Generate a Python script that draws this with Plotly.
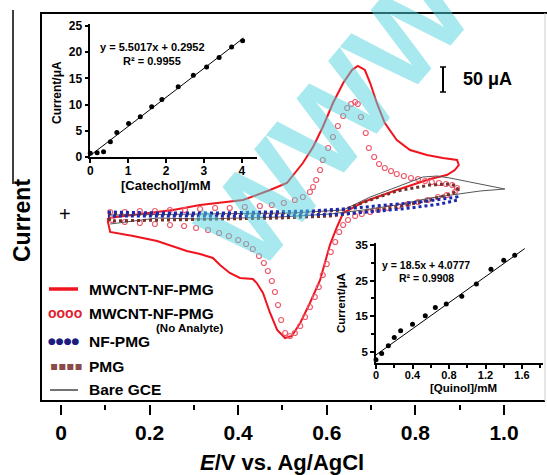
import plotly.graph_objects as go

W, H = 547, 475
FONT = "Liberation Sans, Arial, sans-serif"

# ---------------- main CV data (E / V vs Ag/AgCl, I / µA) ----------------
mw_E = [0.106, 0.178, 0.253, 0.314, 0.411, 0.472, 0.510, 0.546, 0.569, 0.591, 0.614, 0.637, 0.657, 0.670,
        0.686, 0.698, 0.713, 0.731, 0.758, 0.788, 0.826, 0.862, 0.894, 0.898, 0.889, 0.871, 0.833, 0.758,
        0.682, 0.637, 0.623, 0.607, 0.585, 0.562, 0.540, 0.521, 0.506, 0.488, 0.472, 0.456, 0.442, 0.433,
        0.404, 0.381, 0.359, 0.343, 0.314, 0.284, 0.246, 0.217, 0.163, 0.111, 0.106, 0.106]
mw_I = [-1.5, 0.5, 2.5, 5.0, 7.5, 12.5, 16.0, 26.0, 34.0, 44.0, 56.0, 66.0, 72.5, 74.5,
        72.5, 66.0, 56.0, 46.0, 37.5, 32.5, 30.0, 28.5, 27.5, 25.0, 22.5, 20.0, 18.0, 12.5,
        6.5, 1.0, -6.0, -15.0, -32.5, -44.0, -54.0, -60.5, -61.5, -57.5, -49.0, -39.0, -34.0, -32.0,
        -31.5, -29.0, -25.0, -21.5, -19.5, -18.0, -15.0, -13.0, -10.5, -8.5, -3.5, -1.5]

na_E = [0.111, 0.144, 0.178, 0.212, 0.246, 0.280, 0.314, 0.348, 0.381, 0.415, 0.449, 0.476, 0.503, 0.528,
        0.546, 0.562, 0.569, 0.576, 0.585, 0.591, 0.603, 0.614, 0.625, 0.637, 0.646, 0.655, 0.664, 0.670,
        0.677, 0.688, 0.695, 0.707, 0.718, 0.731, 0.745, 0.758, 0.774, 0.790, 0.806, 0.822, 0.837, 0.853,
        0.869, 0.883, 0.894,
        0.889, 0.871, 0.851, 0.828, 0.806, 0.783, 0.761, 0.738, 0.716, 0.698, 0.679, 0.664, 0.648, 0.637,
        0.628, 0.619, 0.609, 0.600, 0.591, 0.582, 0.573, 0.562, 0.551, 0.540, 0.528, 0.517, 0.506, 0.497,
        0.490, 0.483, 0.476, 0.467, 0.458, 0.447, 0.433, 0.418, 0.400, 0.379, 0.357, 0.332, 0.305, 0.278,
        0.246, 0.212, 0.178, 0.144, 0.115]
na_I = [1.5, 1.5, 2.0, 2.0, 2.5, 2.5, 3.0, 3.5, 3.5, 4.0, 4.5, 5.0, 6.0, 7.5,
        9.0, 11.5, 14.0, 17.5, 22.5, 27.5, 33.5, 39.0, 44.5, 49.5, 53.5, 55.5, 56.5, 55.5,
        49.0, 41.0, 33.5, 29.0, 25.5, 23.5, 22.0, 20.5, 19.5, 18.5, 18.0, 17.0, 16.5, 16.0,
        15.5, 15.0, 13.5,
        11.5, 10.0, 9.0, 7.5, 6.5, 5.5, 4.5, 3.5, 2.5, 1.5, 0.5, -0.5, -2.5, -5.0,
        -8.5, -13.5, -18.5, -24.5, -30.0, -36.0, -41.0, -46.0, -51.0, -55.5, -59.0, -60.5, -59.0, -52.5,
        -45.0, -38.5, -33.0, -28.0, -24.0, -20.5, -17.0, -14.5, -12.5, -10.5, -9.0, -7.5, -6.5, -5.5,
        -5.0, -4.5, -4.0, -3.5, -2.5]

nf_E = [0.106, 0.223, 0.359, 0.472, 0.562, 0.637, 0.720, 0.810, 0.894,
        0.896, 0.856, 0.788, 0.720, 0.637, 0.540, 0.427, 0.291, 0.178, 0.106]
nf_I = [1.5, 1.0, 1.0, 1.5, 2.0, 3.0, 4.5, 6.5, 9.0,
        7.5, 5.5, 3.5, 2.0, 0.5, 0.0, -0.5, -0.5, -0.5, -0.5]

pmg_E = [0.106, 0.314, 0.517, 0.637, 0.698, 0.758, 0.833, 0.878, 0.892, 0.896,
         0.885, 0.833, 0.758, 0.682, 0.607, 0.494, 0.359, 0.223, 0.111, 0.106]
pmg_I = [0.5, 0.5, 1.0, 2.5, 7.5, 12.0, 15.0, 15.5, 14.5, 12.5,
         11.0, 7.5, 4.0, 1.5, -0.5, -1.5, -2.0, -2.5, -3.0, -0.5]

gce_E = [0.111, 0.314, 0.517, 0.637, 0.698, 0.758, 0.817, 0.849, 0.878, 0.923, 1.002,
         0.946, 0.894, 0.833, 0.758, 0.682, 0.607, 0.494, 0.314, 0.217, 0.111]
gce_I = [0.0, 0.5, 1.0, 2.5, 9.0, 14.0, 19.0, 19.5, 18.5, 16.5, 13.0,
         12.0, 10.5, 8.5, 5.0, 2.5, 0.5, -1.0, -2.0, -1.5, -4.5]

# ---------------- inset: catechol calibration ----------------
cat_conc = [0.0, 0.18, 0.35, 0.53, 0.70, 1.01, 1.32, 1.62, 1.89, 2.32, 2.72, 3.07, 3.40, 3.73, 4.02]
cat_cur = [0.7, 0.8, 1.0, 2.9, 4.7, 6.4, 7.7, 9.6, 11.0, 13.4, 15.6, 17.2, 19.0, 21.0, 22.2]
cat_fit_x = [0.0, 4.04]
cat_fit_y = [0.3, 22.7]
cat_ticks = [0, 1, 2, 3, 4]
cat_yticks = [0, 5, 10, 15, 20, 25]

# ---------------- inset: quinol calibration ----------------
qui_conc = [0.0, 0.062, 0.135, 0.20, 0.27, 0.40, 0.54, 0.65, 0.77, 0.94, 1.10, 1.26, 1.40, 1.52]
qui_cur = [2.7, 4.5, 6.7, 9.0, 10.9, 12.7, 15.1, 17.4, 18.4, 20.6, 24.0, 28.2, 30.7, 32.1]
qui_fit_x = [0.0, 1.63]
qui_fit_y = [4.1, 34.0]
qui_ticks = [0, 0.4, 0.8, 1.2, 1.6]
qui_ticktext = ["0", "0.4", "0.8", "1.2", "1.6"]
qui_yticks = [5, 15, 25, 35]

main_ticks = [0, 0.2, 0.4, 0.6, 0.8, 1.0]
main_ticktext = ["0", "0.2", "0.4", "0.6", "0.8", "1.0"]


def px(x):
    return x / W


def py(y):
    return 1 - y / H


fig = go.Figure()

# main traces
fig.add_trace(go.Scatter(x=mw_E, y=mw_I, mode="lines", line=dict(color="#f0141e", width=2),
                         xaxis="x", yaxis="y", showlegend=False))
fig.add_trace(go.Scatter(x=na_E, y=na_I, mode="markers",
                         marker=dict(symbol="circle-open", size=5, color="#ee5a6c", line=dict(width=1.2)),
                         xaxis="x", yaxis="y", showlegend=False))
fig.add_trace(go.Scatter(x=gce_E, y=gce_I, mode="lines", line=dict(color="#555555", width=1),
                         xaxis="x", yaxis="y", showlegend=False))
fig.add_trace(go.Scatter(x=pmg_E, y=pmg_I, mode="lines", line=dict(color="#74302c", width=3, dash="dot"),
                         xaxis="x", yaxis="y", showlegend=False))
fig.add_trace(go.Scatter(x=nf_E, y=nf_I, mode="lines", line=dict(color="#1a28b0", width=3, dash="dot"),
                         xaxis="x", yaxis="y", showlegend=False))

# catechol inset
fig.add_trace(go.Scatter(x=cat_fit_x, y=cat_fit_y, mode="lines", line=dict(color="black", width=1),
                         xaxis="x2", yaxis="y2", showlegend=False))
fig.add_trace(go.Scatter(x=cat_conc, y=cat_cur, mode="markers", marker=dict(color="black", size=5),
                         xaxis="x2", yaxis="y2", showlegend=False, cliponaxis=False))
# quinol inset
fig.add_trace(go.Scatter(x=qui_fit_x, y=qui_fit_y, mode="lines", line=dict(color="black", width=1),
                         xaxis="x3", yaxis="y3", showlegend=False))
fig.add_trace(go.Scatter(x=qui_conc, y=qui_cur, mode="markers", marker=dict(color="black", size=5),
                         xaxis="x3", yaxis="y3", showlegend=False, cliponaxis=False))


def inset_axis(size):
    return dict(showline=True, linecolor="black", linewidth=1.5, ticks="outside", ticklen=4,
                tickwidth=1.5, tickcolor="black", showgrid=False, zeroline=False,
                tickfont=dict(family=FONT, size=size, color="black", weight="bold"), automargin=False)


fig.update_layout(
    width=W, height=H, margin=dict(l=0, r=0, t=0, b=0, autoexpand=False),
    paper_bgcolor="white", plot_bgcolor="rgba(0,0,0,0)",
    xaxis=dict(domain=[px(41), px(545)], range=[-0.0451, 1.0926], anchor="y", automargin=False,
               showline=False, showgrid=False, zeroline=False,
               tickvals=main_ticks, ticktext=main_ticktext, ticks="outside", ticklen=10, tickwidth=2,
               tickcolor="black", ticklabelstandoff=0,
               tickfont=dict(family=FONT, size=21, color="black", weight="bold"),
               minor=dict(dtick=0.1, tick0=0, ticks="outside", ticklen=5, tickwidth=2, tickcolor="black")),
    yaxis=dict(domain=[py(404), py(13)], range=[-94.5, 101], anchor="x", visible=False, automargin=False),
    xaxis2=dict(domain=[px(90.3), px(257)], range=[0, 4.40], anchor="y2", tickvals=cat_ticks,
                ticklabelstandoff=-2, **inset_axis(12)),
    yaxis2=dict(domain=[py(157), py(24)], range=[0, 25.4], anchor="x2", tickvals=cat_yticks,
                **inset_axis(12)),
    xaxis3=dict(domain=[px(376), px(543)], range=[0, 1.83], anchor="y3", tickvals=qui_ticks,
                ticktext=qui_ticktext, ticklabelstandoff=-3,
                minor=dict(dtick=0.2, tick0=0, ticks="outside", ticklen=3, tickwidth=1.5, tickcolor="black"),
                **inset_axis(11)),
    yaxis3=dict(domain=[py(363), py(243)], range=[1.82, 35.56], anchor="x3", tickvals=qui_yticks,
                minor=dict(dtick=5, tick0=0, ticks="outside", ticklen=3, tickwidth=1.5, tickcolor="black"),
                **inset_axis(11.5)),
)

shapes = []


def seg(x0, y0, x1, y1, color="black", width=2):
    shapes.append(dict(type="line", xref="paper", yref="paper", x0=px(x0), y0=py(y0), x1=px(x1), y1=py(y1),
                       line=dict(color=color, width=width)))


# frame
seg(41, 13, 41, 401)
seg(40, 13, 547, 13)
seg(40, 401, 545, 401)
seg(545, 13, 545, 401, color="#cccccc", width=1)
# line beside the y label
seg(13, 10, 13, 184, width=1.5)
# scale bar
seg(443, 67, 443, 92, width=2)
seg(440, 67, 446, 67, width=1.5)
seg(440, 92, 446, 92, width=1.5)
# legend line samples
seg(49, 289, 78, 289, color="#f0141e", width=3.5)
seg(50, 390, 78, 390, color="#444444", width=1.5)
fig.update_layout(shapes=shapes)

ann = []


def text(x, y, s, size, color="black", bold=True, angle=0, xanchor="center", family=FONT):
    ann.append(dict(x=px(x), y=py(y), xref="paper", yref="paper", text=s, showarrow=False,
                    xanchor=xanchor, yanchor="middle", textangle=angle,
                    font=dict(family=family, size=size, color=color, weight="bold" if bold else "normal")))


# watermark
ann.append(dict(x=px(335), y=py(118), xref="paper", yref="paper", text="WWW", showarrow=False,
                xanchor="center", yanchor="middle",
                textangle=-50, font=dict(family=FONT, size=122, color="rgba(80,212,222,0.5)", weight="bold")))

text(22, 221, "Current", 23, angle=-90)
text(65, 214, "+", 20, bold=False)
text(282, 462, "<i>E</i>/V vs. Ag/AgCl", 22)
text(487, 79, "50 μA", 18)

# legend
text(87, 289, "MWCNT-NF-PMG", 15.5, xanchor="left")
text(87, 313, "MWCNT-NF-PMG", 15.5, xanchor="left")
text(154, 328, "(No Analyte)", 11.5, xanchor="left")
text(87, 341, "NF-PMG", 15.5, xanchor="left")
text(87, 366, "PMG", 15.5, xanchor="left")
text(87, 389, "Bare GCE", 15.5, xanchor="left")
text(46, 313, "oooo", 14, color="#e02030", xanchor="left")
text(46, 341, "●●●●", 9, color="#1c1c80", xanchor="left", family="DejaVu Sans")
text(48, 366, "▪▪▪▪", 12, color="#8a4a48", xanchor="left", family="DejaVu Sans")

# catechol inset texts
text(152, 47, "y = 5.5017x + 0.2952", 11)
text(152, 61, "R² = 0.9955", 11)
text(57, 93, "Current/μA", 12, angle=-90)
text(166, 185, "[Catechol]/mM", 13)
# quinol inset texts
text(426, 265, "y = 18.5x + 4.0777", 10.5)
text(426, 278, "R² = 0.9908", 10.5)
text(341, 303, "Current/μA", 11.5, angle=-90)
text(464, 388, "[Quinol]/mM", 11.5)

fig.update_layout(annotations=ann)
fig.write_html("out.html", config={"displayModeBar": False},
               post_script="document.body.style.margin='0';document.body.style.padding='0';")
